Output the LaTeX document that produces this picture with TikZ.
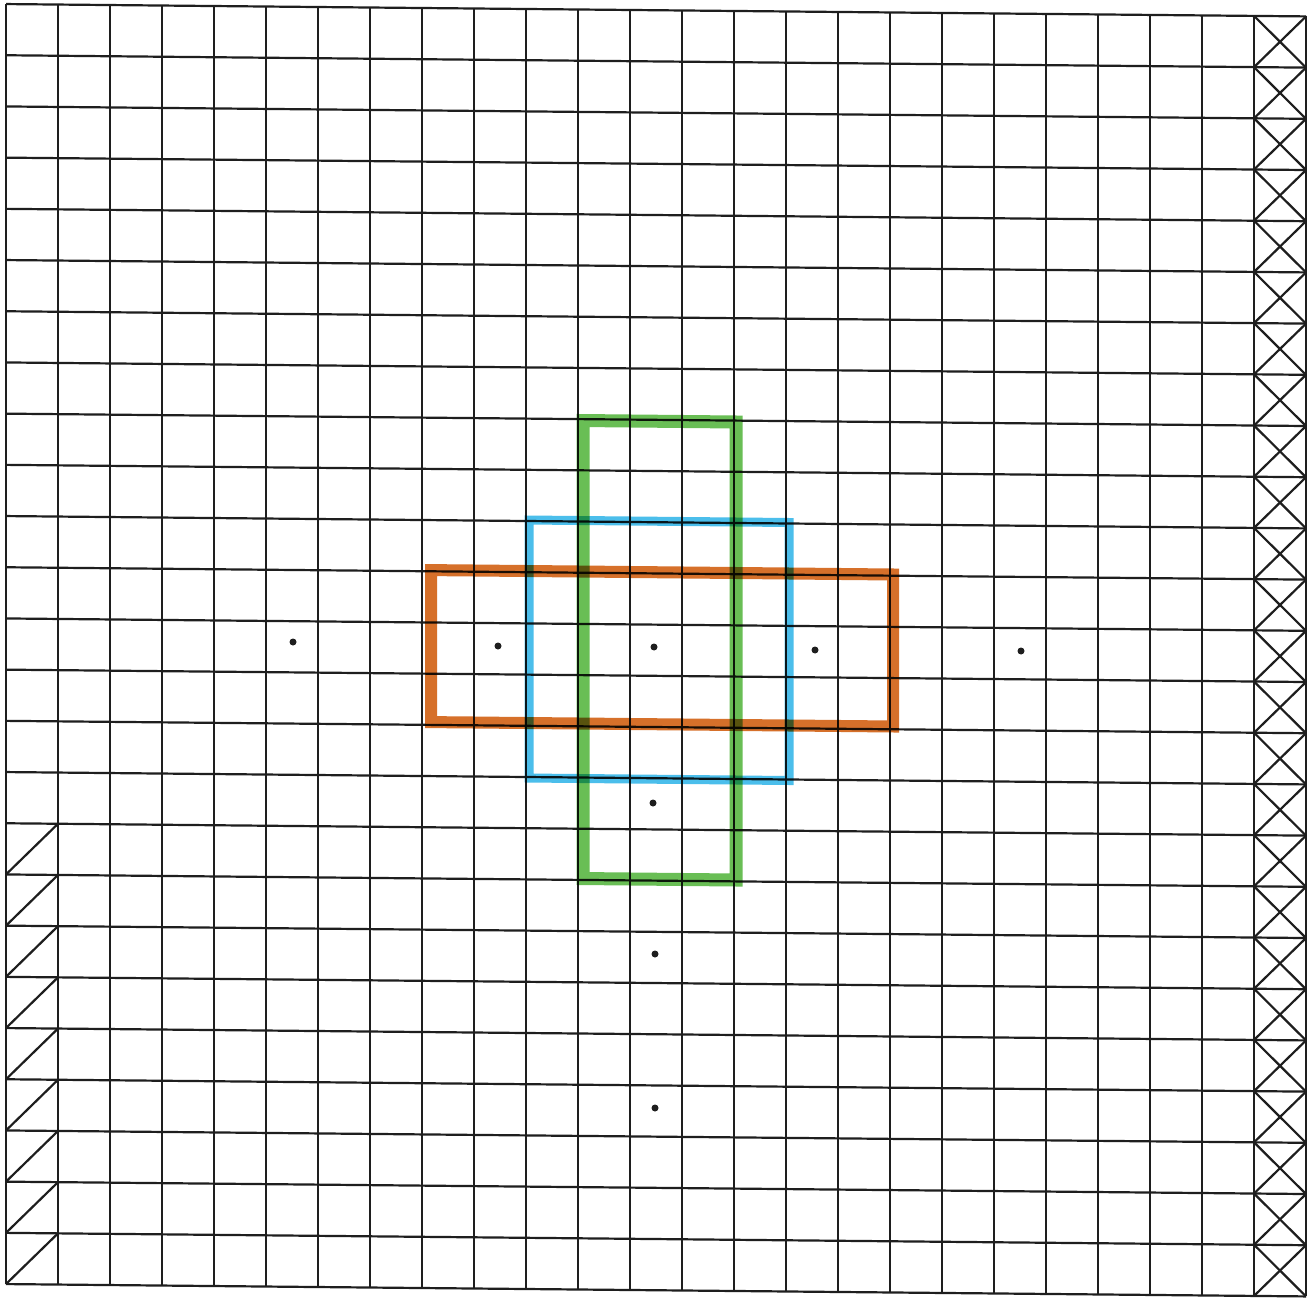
\documentclass[tikz,border=0pt]{standalone}
\usetikzlibrary{calc}
\definecolor{gridc}{RGB}{30,30,30}
\definecolor{mgreen}{RGB}{105,190,85}
\definecolor{mblue}{RGB}{75,190,235}
\definecolor{morange}{RGB}{214,112,42}
\tikzset{
  gridline/.style={draw=gridc, line width=1.1pt},
  marker/.style={line width=#1, line join=miter},
  dotmark/.style={fill=gridc, draw=none},
}
\begin{document}
\begin{tikzpicture}[x=0.5pt,y=-0.5pt]
\useasboundingbox[fill=white] (0,0) rectangle (1311,1299);
\begin{scope}[yslant=-0.0095]
  % grid
  \foreach \i in {0,...,25}
    \draw[gridline] ({6+52*\i},4) -- ({6+52*\i},1284);
  \foreach \j in {0,...,25}
    \draw[gridline] (6,{4+51.2*\j}) -- (1306,{4+51.2*\j});
  % right column crosses
  \foreach \j in {0,...,24}{
    \draw[gridline] (1254,{4+51.2*\j}) -- (1306,{4+51.2*(\j+1)});
    \draw[gridline] (1254,{4+51.2*(\j+1)}) -- (1306,{4+51.2*\j});
  }
  % left column diagonals
  \foreach \j in {16,...,24}
    \draw[gridline] (6,{4+51.2*(\j+1)}) -- (58,{4+51.2*\j});
  % marker rectangles
  \begin{scope}[blend mode=multiply]
    \draw[marker=6.5pt, mgreen] (583,415) rectangle (736,873);
    \draw[marker=4.5pt, mblue] (529,515) rectangle (789,773);
    \draw[marker=6pt, morange] (431,566) rectangle (893,718);
  \end{scope}
\end{scope}
% dots
\foreach \p/\n in {(293,642)/d1,(498,646)/d2,(654,647)/d3,(815,650)/d4,(1021,651)/d5,(653,803)/d6,(655,954)/d7,(655,1108)/d8}
  \fill[dotmark] \p circle (3.5);
\end{tikzpicture}
\end{document}
